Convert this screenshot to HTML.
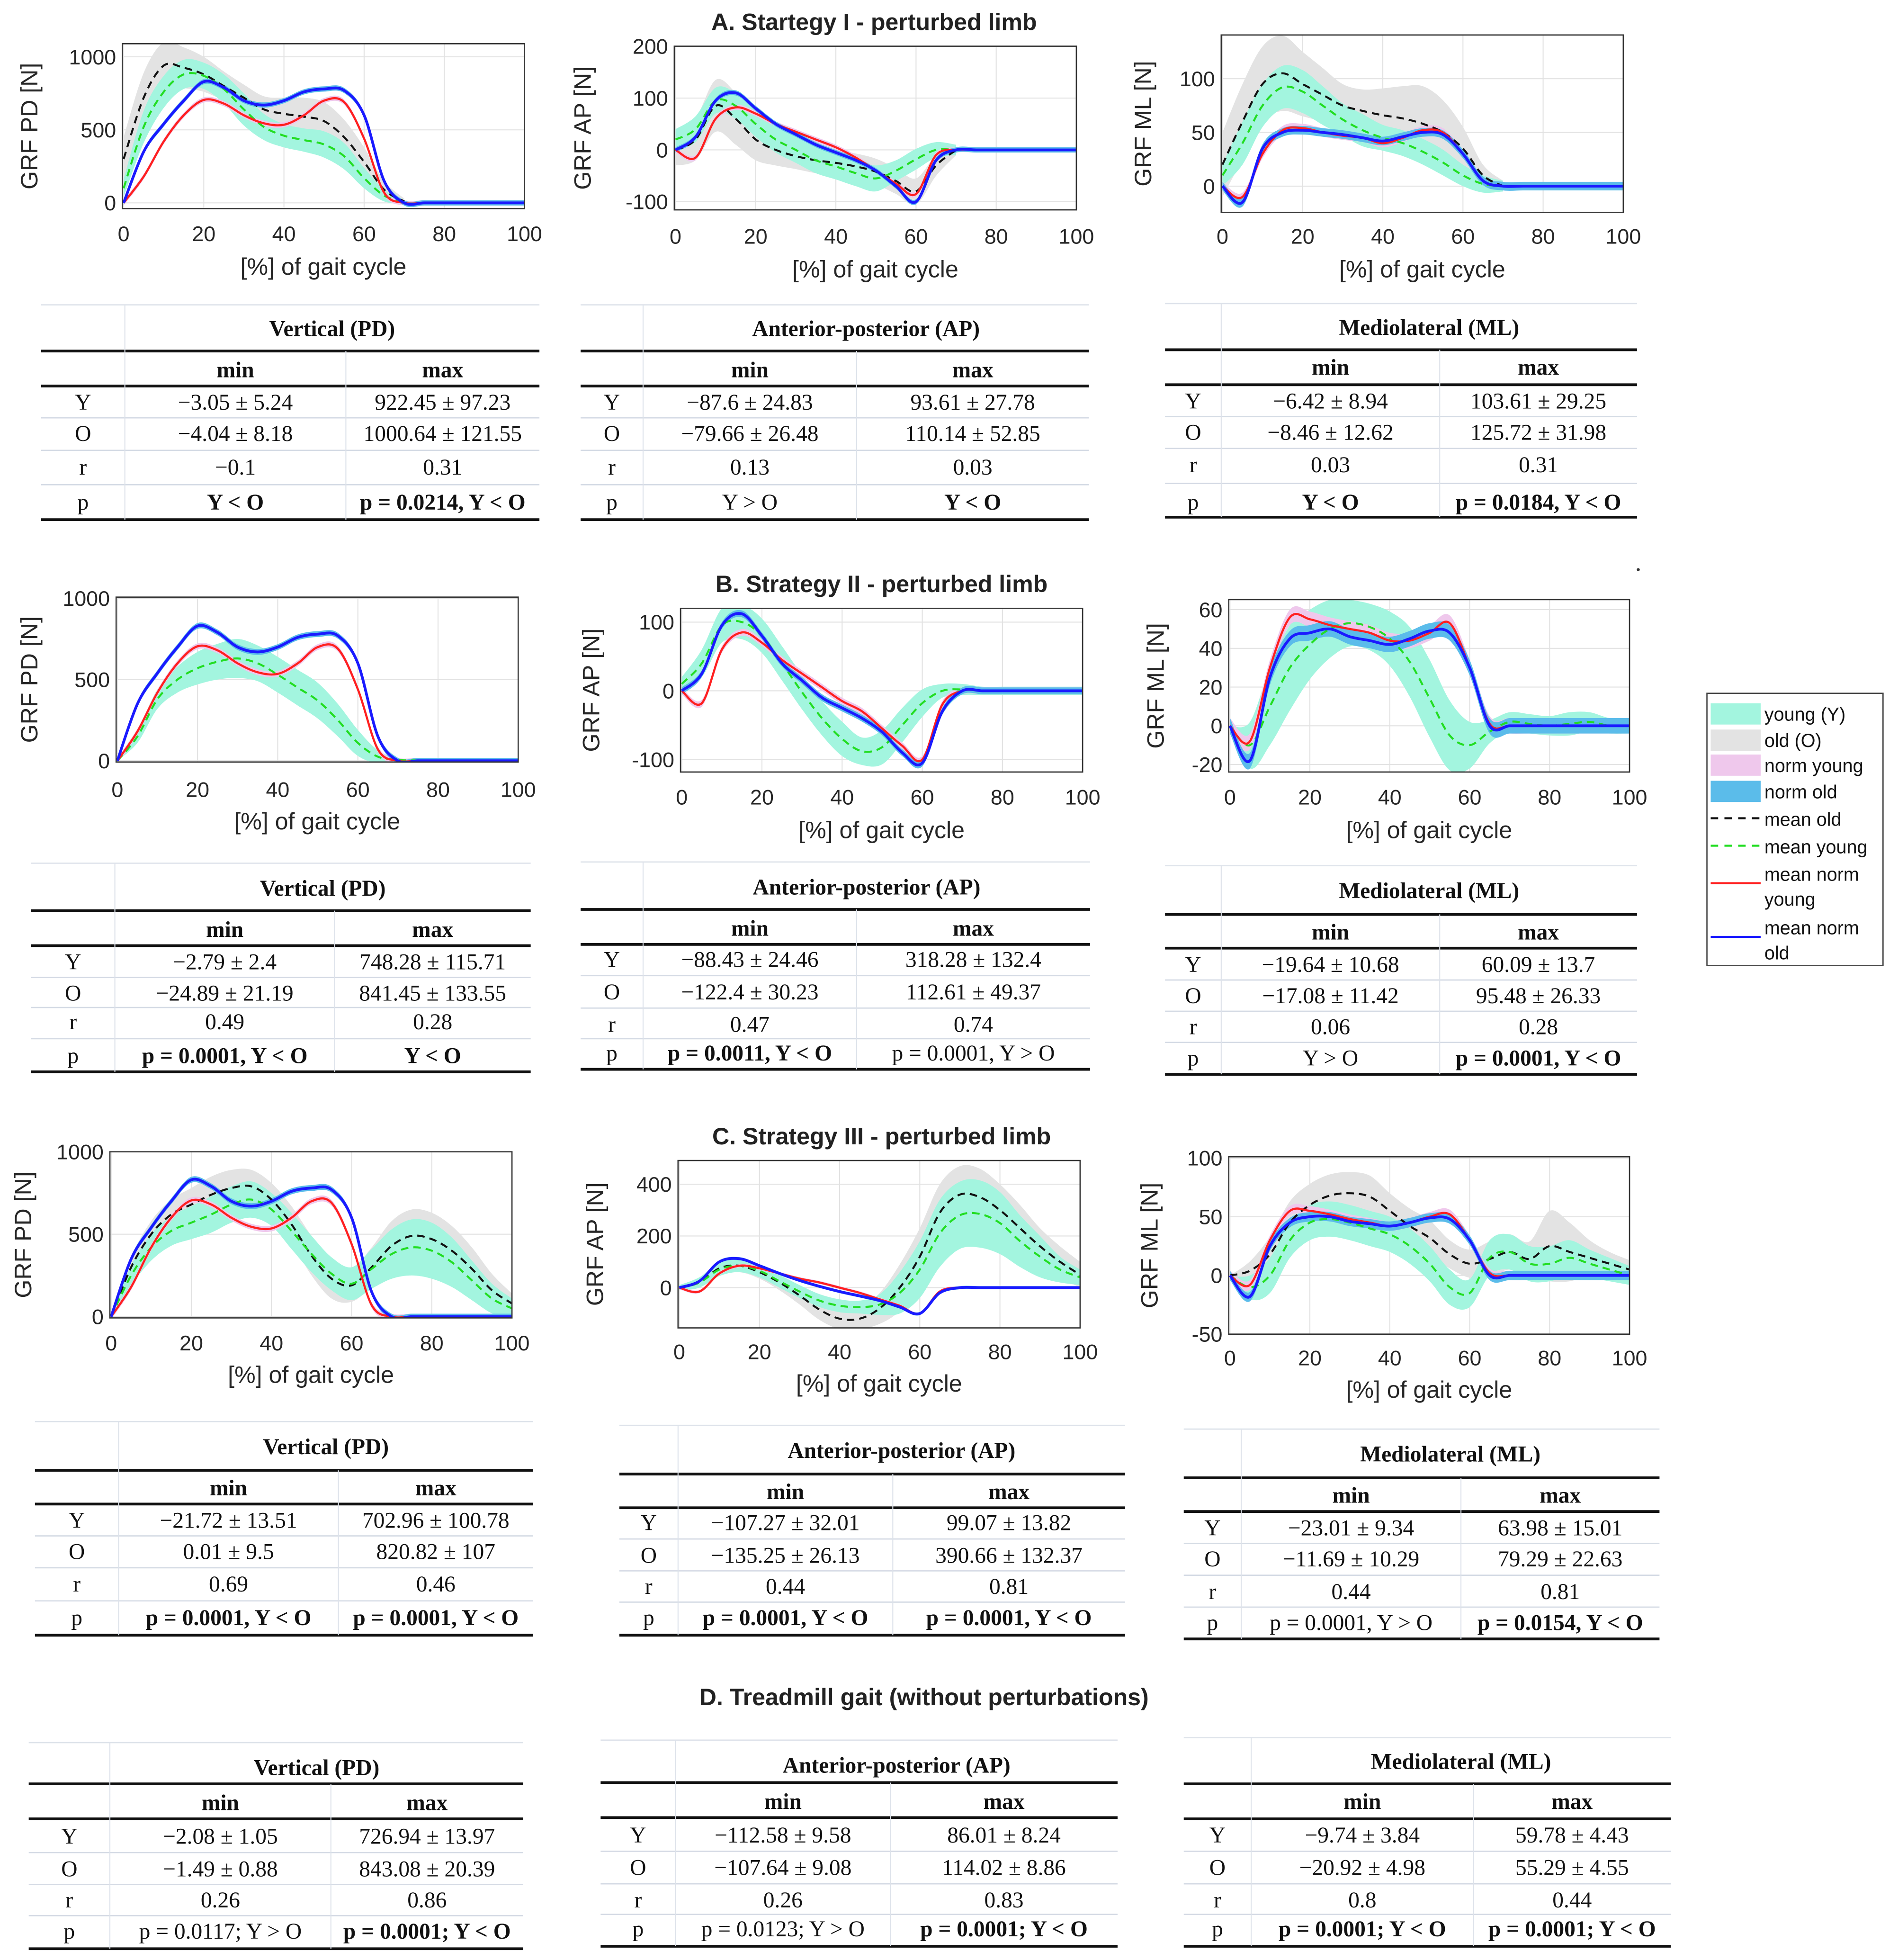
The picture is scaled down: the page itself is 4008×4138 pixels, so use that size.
<!DOCTYPE html>
<html><head><meta charset="utf-8"><style>
html,body{margin:0;padding:0;background:#fff;}
svg{display:block;}
</style></head><body>
<svg id="fig" xmlns="http://www.w3.org/2000/svg" width="4008" height="4138" viewBox="0 0 1520 1569" preserveAspectRatio="none"></svg>
<script>
// ---------- DATA (x = 0..100 step 5) ----------
const X = [0,5,10,15,20,25,30,35,40,45,50,55,60,65,70,75,80,85,90,95,100];
const Z = null;
// Panel A1 PD
const A1_normOld   = [0,350,540,700,830,790,700,670,700,760,780,770,600,150,0,0,0,0,0,0,0];
const A1_normYoung = [0,180,420,600,705,680,600,545,535,600,700,690,440,70,0,0,0,0,0,0,0];
const A1_meanOld   = [300,720,940,925,880,800,720,640,610,590,560,450,280,90,10,Z,Z,Z,Z,Z,Z];
const A1_meanYoung = [100,520,760,880,870,780,640,520,460,430,400,320,170,50,5,Z,Z,Z,Z,Z,Z];
const A1_sdOld     = [150,170,160,140,120,100,90,90,110,130,130,120,100,60,20,Z,Z,Z,Z,Z,Z];
const A1_sdYoung   = [60,110,110,100,90,100,110,90,80,80,90,90,70,40,10,Z,Z,Z,Z,Z,Z];
// Panel A2 AP
const A2_normOld   = [0,25,95,110,80,50,30,10,-5,-20,-40,-70,-100,-20,0,0,0,0,0,0,0];
const A2_normYoung = [0,-15,60,82,70,50,35,20,5,-15,-40,-65,-85,-10,0,0,0,0,0,0,0];
const A2_meanOld   = [0,20,85,60,20,0,-12,-20,-25,-32,-42,-60,-80,-30,0,Z,Z,Z,Z,Z,Z];
const A2_meanYoung = [20,40,95,85,50,20,0,-20,-32,-45,-55,-40,-18,0,0,Z,Z,Z,Z,Z,Z];
const A2_sdOld     = [30,40,50,50,40,30,25,25,25,25,25,25,25,20,10,Z,Z,Z,Z,Z,Z];
const A2_sdYoung   = [20,25,25,25,25,25,25,25,25,25,25,20,20,15,10,Z,Z,Z,Z,Z,Z];
// Panel A3 ML
const A3_normOld   = [0,-15,35,50,52,50,48,45,42,46,50,48,30,5,0,0,0,0,0,0,0];
const A3_normYoung = [0,-10,30,52,54,50,47,45,40,45,52,50,30,5,0,Z,Z,Z,Z,Z,Z];
const A3_meanOld   = [20,60,95,105,95,85,75,70,66,63,58,50,35,10,0,Z,Z,Z,Z,Z,Z];
const A3_meanYoung = [10,40,75,92,88,75,62,52,45,40,32,22,10,2,0,Z,Z,Z,Z,Z,Z];
const A3_sdOld     = [30,35,35,35,30,25,20,20,25,30,35,30,20,10,5,Z,Z,Z,Z,Z,Z];
const A3_sdYoung   = [10,20,20,20,20,18,15,15,12,12,12,12,10,8,5,Z,Z,Z,Z,Z,Z];
// Panel B1 PD
const B1_normOld   = A1_normOld;
const B1_normYoung = A1_normYoung;
const B1_meanYoung = [0,150,380,500,570,610,630,600,530,450,370,250,110,25,5,2,0,0,0,0,0];
const B1_sdYoung   = [0,40,60,80,100,110,120,110,110,110,110,100,80,40,10,5,0,0,0,0,0];
// Panel B2 AP
const B2_normOld   = [0,25,95,112,80,40,15,-10,-25,-40,-60,-90,-105,-30,0,0,0,0,0,0,0];
const B2_normYoung = [0,-18,60,85,70,45,25,5,-15,-30,-55,-80,-100,-20,0,0,0,0,0,0,0];
const B2_meanYoung = [10,40,95,100,80,40,-2,-40,-70,-88,-82,-50,-18,0,2,0,0,0,0,0,0];
const B2_sdYoung   = [10,20,25,25,25,25,25,25,25,20,25,25,20,10,8,6,6,6,6,6,6];
// Panel B3 ML
const B3_normOld   = [0,-18,25,45,48,50,46,44,42,45,49,48,30,0,0,0,0,0,0,0,0];
const B3_normYoung = [0,-8,30,56,55,52,50,48,44,44,48,53,30,1,0,0,0,0,0,0,0];
const B3_meanYoung = [0,-10,10,30,42,50,53,51,45,33,14,-5,-10,-3,2,1,0,1,2,0,0];
const B3_sdYoung   = [0,12,20,22,18,15,12,12,14,18,20,18,12,6,5,5,5,6,5,4,4];
// Panel C1 PD
const C1_normOld   = A1_normOld;
const C1_normYoung = A1_normYoung;
const C1_meanOld   = [0,300,500,620,680,740,780,790,710,560,370,230,190,300,430,490,470,400,290,160,80];
const C1_meanYoung = [0,250,420,520,570,620,680,710,650,520,380,260,200,290,380,420,400,330,220,110,50];
const C1_sdOld     = [0,60,80,90,100,110,110,100,100,110,120,120,100,120,150,160,160,150,130,100,60];
const C1_sdYoung   = [0,60,80,90,100,110,110,110,100,110,110,100,100,120,150,170,170,150,120,90,60];
// Panel C2 AP
const C2_normOld   = [0,25,100,112,85,55,28,5,-15,-32,-50,-75,-100,-20,0,0,0,0,0,0,0];
const C2_normYoung = [0,-15,55,85,75,55,35,20,0,-20,-45,-70,-100,-15,0,0,0,0,0,0,0];
const C2_meanOld   = [0,20,75,85,60,20,-30,-85,-120,-120,-80,0,120,290,360,350,300,230,160,100,50];
const C2_meanYoung = [0,20,70,85,65,25,-15,-50,-70,-75,-65,-20,70,210,280,285,250,180,120,70,40];
const C2_sdOld     = [10,20,25,25,25,30,35,40,40,40,60,90,110,110,110,110,100,90,70,60,50];
const C2_sdYoung   = [10,20,25,25,25,25,25,25,25,25,40,80,110,130,130,130,120,100,80,50,30];
// Panel C3 ML
const C3_normOld   = [0,-18,25,45,50,50,46,44,42,45,49,48,30,0,0,0,0,0,0,0,0];
const C3_normYoung = [0,-8,30,55,55,52,48,45,42,45,50,52,30,2,0,0,0,0,0,0,0];
const C3_meanOld   = [0,4,18,45,60,68,70,67,55,42,32,18,10,14,20,14,25,20,15,10,5];
const C3_meanYoung = [0,-10,0,30,45,48,45,40,35,25,10,-10,-15,15,20,10,10,15,10,5,0];
const C3_sdOld     = [0,8,15,18,18,18,18,18,15,15,15,12,12,15,15,15,30,25,15,10,8];
const C3_sdYoung   = [0,10,15,15,15,15,15,15,15,15,15,15,12,15,15,15,15,15,12,10,8];
// axis ticks
const xTicks = [0,20,40,60,80,100];
const ticksPD = [0,500,1000];
const ticksA2 = [-100,0,100,200];
const ticksA3 = [0,50,100];
const ticksB2 = [-100,0,100];
const ticksB3 = [-20,0,20,40,60];
const ticksC2 = [0,200,400];
const ticksC3 = [-50,0,50,100];

// ---------- helpers ----------
const NS = 'http://www.w3.org/2000/svg';
const svg = document.getElementById('fig');
function mk(tag, attrs, parent){ const e = document.createElementNS(NS, tag); for (const k in attrs) e.setAttribute(k, attrs[k]); (parent||svg).appendChild(e); return e; }
function txt(s, attrs, parent){ const e = mk('text', attrs, parent); e.textContent = s; return e; }
function smooth(pts){
  if (pts.length < 2) return '';
  let d = 'M' + pts[0][0].toFixed(2) + ',' + pts[0][1].toFixed(2);
  for (let i = 0; i < pts.length - 1; i++){
    const p0 = pts[i-1] || pts[i], p1 = pts[i], p2 = pts[i+1], p3 = pts[i+2] || p2;
    const c1 = [p1[0] + (p2[0]-p0[0])/6, p1[1] + (p2[1]-p0[1])/6];
    const c2 = [p2[0] - (p3[0]-p1[0])/6, p2[1] - (p3[1]-p1[1])/6];
    d += 'C' + c1[0].toFixed(2)+','+c1[1].toFixed(2)+' '+c2[0].toFixed(2)+','+c2[1].toFixed(2)+' '+p2[0].toFixed(2)+','+p2[1].toFixed(2);
  }
  return d;
}

const panels = [
 {id:'a-pd', x0:98, x1:420, top:35, bot:167, xv0:99, xv1:420, yv:[0,1000], yp:[162.4,45.5], ticks:ticksPD, ylab:'GRF PD [N]', ylx:25, tickY:193, labY:220, nO:A1_normOld, nY:A1_normYoung, mO:A1_meanOld, mY:A1_meanYoung, sO:A1_sdOld, sY:A1_sdYoung, nb:18},
 {id:'a-ap', x0:540, x1:862, top:37, bot:168, xv0:541, xv1:862, yv:[0,200], yp:[120,37], ticks:ticksA2, ylab:'GRF AP [N]', ylx:468, tickY:195, labY:222, nO:A2_normOld, nY:A2_normYoung, mO:A2_meanOld, mY:A2_meanYoung, sO:A2_sdOld, sY:A2_sdYoung, nb:5},
 {id:'a-ml', x0:978, x1:1300, top:28, bot:170, xv0:979, xv1:1300, yv:[0,100], yp:[149,63], ticks:ticksA3, ylab:'GRF ML [N]', ylx:917, tickY:195, labY:222, nO:A3_normOld, nY:A3_normYoung, mO:A3_meanOld, mY:A3_meanYoung, sO:A3_sdOld, sY:A3_sdYoung, nb:4},
 {id:'b-pd', x0:93, x1:415, top:478, bot:610, xv0:94, xv1:415, yv:[0,1000], yp:[609,479], ticks:ticksPD, ylab:'GRF PD [N]', ylx:25, tickY:638, labY:664, nO:B1_normOld, nY:B1_normYoung, mO:null, mY:B1_meanYoung, sO:null, sY:B1_sdYoung, nb:18},
 {id:'b-ap', x0:545, x1:867, top:487, bot:618, xv0:546, xv1:867, yv:[0,100], yp:[553,498], ticks:ticksB2, ylab:'GRF AP [N]', ylx:475, tickY:644, labY:671, nO:B2_normOld, nY:B2_normYoung, mO:null, mY:B2_meanYoung, sO:null, sY:B2_sdYoung, nb:5},
 {id:'b-ml', x0:984, x1:1305, top:480, bot:618, xv0:985, xv1:1305, yv:[0,60], yp:[581,488], ticks:ticksB3, ylab:'GRF ML [N]', ylx:927, tickY:644, labY:671, nO:B3_normOld, nY:B3_normYoung, mO:null, mY:B3_meanYoung, sO:null, sY:B3_sdYoung, nb:4},
 {id:'c-pd', x0:88, x1:410, top:922, bot:1055, xv0:89, xv1:410, yv:[0,1000], yp:[1054,922], ticks:ticksPD, ylab:'GRF PD [N]', ylx:20, tickY:1081, labY:1107, nO:C1_normOld, nY:C1_normYoung, mO:C1_meanOld, mY:C1_meanYoung, sO:C1_sdOld, sY:C1_sdYoung, nb:18},
 {id:'c-ap', x0:543, x1:865, top:929, bot:1063, xv0:544, xv1:865, yv:[0,400], yp:[1030.8,948], ticks:ticksC2, ylab:'GRF AP [N]', ylx:478, tickY:1088, labY:1114, nO:C2_normOld, nY:C2_normYoung, mO:C2_meanOld, mY:C2_meanYoung, sO:C2_sdOld, sY:C2_sdYoung, nb:6},
 {id:'c-ml', x0:984, x1:1305, top:926, bot:1068, xv0:985, xv1:1305, yv:[0,100], yp:[1021,927], ticks:ticksC3, ylab:'GRF ML [N]', ylx:922, tickY:1093, labY:1119, nO:C3_normOld, nY:C3_normYoung, mO:C3_meanOld, mY:C3_meanYoung, sO:C3_sdOld, sY:C3_sdYoung, nb:4}
];

panels.forEach((p, pi) => {
  const g = mk('g', {});
  
  
  const xs = v => p.xv0 + (v/100)*(p.xv1 - p.xv0);
  const ys = v => p.yp[0] + (v - p.yv[0])*(p.yp[1]-p.yp[0])/(p.yv[1]-p.yv[0]);
  const cp = mk('clipPath', {id:'clip'+pi}, g);
  mk('rect', {x:p.x0, y:p.top, width:p.x1-p.x0, height:p.bot-p.top}, cp);
  mk('rect', {x:p.x0, y:p.top, width:p.x1-p.x0, height:p.bot-p.top, fill:'#fff'}, g);
  xTicks.forEach(t => {
    const l = mk('line', {x1:xs(t), x2:xs(t), y1:p.top, y2:p.bot, stroke:'#e2e2e2', 'stroke-width':0.8}, g);
    
    
    const tl = txt(String(t), {x:xs(t), y:p.tickY, 'font-family':'Liberation Sans, sans-serif', 'font-size':17, 'text-anchor':'middle', fill:'#262626'}, g);
    
    
  });
  p.ticks.forEach(t => {
    const l = mk('line', {x1:p.x0, x2:p.x1, y1:ys(t), y2:ys(t), stroke:'#e2e2e2', 'stroke-width':0.8}, g);
    
    
    const tl = txt(String(t), {x:p.x0-5, y:ys(t)+6, 'font-family':'Liberation Sans, sans-serif', 'font-size':17, 'text-anchor':'end', fill:'#262626'}, g);
    
    
  });
  const plot = mk('g', {'clip-path':'url(#clip'+pi+')'}, g);
  function band(mean, sd, fill, name, scalar){
    const up = [], lo = [];
    X.forEach((x, i) => { if (mean[i] === null || mean[i] === undefined) return; const s = scalar !== undefined ? scalar : sd[i]; up.push([xs(x), ys(mean[i]+s)]); lo.push([xs(x), ys(mean[i]-s)]); });
    const d = smooth(up) + smooth(lo.reverse()).replace('M','L') + 'Z';
    const e = mk('path', {d:d, fill:fill, stroke:'none'}, plot);
    
    
  }
  function line(mean, stroke, dash, name, w){
    const pts = [];
    X.forEach((x, i) => { if (mean[i] === null || mean[i] === undefined) return; pts.push([xs(x), ys(mean[i])]); });
    const e = mk('path', {d:smooth(pts), fill:'none', stroke:stroke, 'stroke-width':w, 'stroke-dasharray':dash, 'stroke-linejoin':'round'}, plot);
    
    
  }
  if (p.mO) band(p.mO, p.sO, '#e3e3e3', 'old-band');
  band(p.mY, p.sY, '#a3f5df', 'young-band');
  band(p.nY, null, '#efc8ec', 'norm-young-band', p.nb);
  band(p.nO, null, '#5bbcea', 'norm-old-band', p.nb);
  if (p.mO) line(p.mO, '#111', '6 4', 'mean-old-line', 1.6);
  line(p.mY, '#22dd22', '6 4', 'mean-young-line', 1.6);
  line(p.nY, '#ff2020', 'none', 'mean-norm-young-line', 1.7);
  line(p.nO, '#1a1aff', 'none', 'mean-norm-old-line', 2.2);
  const fr = mk('rect', {x:p.x0, y:p.top, width:p.x1-p.x0, height:p.bot-p.top, fill:'none', stroke:'#333', 'stroke-width':1}, g);
  
  
  const xl = txt('[%] of gait cycle', {x:(p.x0+p.x1)/2, y:p.labY, 'font-family':'Liberation Sans, sans-serif', 'font-size':19, 'text-anchor':'middle', fill:'#262626'}, g);
  
  
  const cy = (p.top+p.bot)/2;
  const yl = txt(p.ylab, {x:p.ylx, y:cy, transform:'rotate(-90 '+p.ylx+' '+cy+')', 'font-family':'Liberation Sans, sans-serif', 'font-size':19, 'text-anchor':'middle', 'dominant-baseline':'middle', fill:'#262626'}, g);
  
  
});

[['A. Startegy I - perturbed limb',700,24],['B. Strategy II - perturbed limb',706,474],['C. Strategy III - perturbed limb',706,916],['D. Treadmill gait (without perturbations)',740,1365]].forEach(t => {
  const e = txt(t[0], {x:t[1], y:t[2], 'font-family':'Liberation Sans, sans-serif', 'font-size':19, 'font-weight':'bold', 'text-anchor':'middle', fill:'#222'});
  
  
});

const tables = [
 {x0:33,x1:432,c1:100,c2:277,top:244,head:263,l1:281,mm:296,l2:309,rows:[322,347,374,402],bot:416,title:'Vertical (PD)',cells:[['−3.05 ± 5.24','922.45 ± 97.23'],['−4.04 ± 8.18','1000.64 ± 121.55'],['−0.1','0.31'],['Y < O','p = 0.0214, Y < O']],bold:[1,1]},
 {x0:465,x1:872,c1:515,c2:686,top:244,head:263,l1:281,mm:296,l2:309,rows:[322,347,374,402],bot:416,title:'Anterior-posterior (AP)',cells:[['−87.6 ± 24.83','93.61 ± 27.78'],['−79.66 ± 26.48','110.14 ± 52.85'],['0.13','0.03'],['Y > O','Y < O']],bold:[0,1]},
 {x0:933,x1:1311,c1:978,c2:1153,top:243,head:262,l1:280,mm:294,l2:308,rows:[321,346,372,402],bot:414,title:'Mediolateral (ML)',cells:[['−6.42 ± 8.94','103.61 ± 29.25'],['−8.46 ± 12.62','125.72 ± 31.98'],['0.03','0.31'],['Y < O','p = 0.0184, Y < O']],bold:[1,1]},
 {x0:25,x1:425,c1:92,c2:268,top:691,head:711,l1:729,mm:744,l2:757,rows:[770,795,818,845],bot:858,title:'Vertical (PD)',cells:[['−2.79 ± 2.4','748.28 ± 115.71'],['−24.89 ± 21.19','841.45 ± 133.55'],['0.49','0.28'],['p = 0.0001, Y < O','Y < O']],bold:[1,1]},
 {x0:465,x1:873,c1:515,c2:686,top:690,head:710,l1:728,mm:743,l2:756,rows:[768,794,820,843],bot:856,title:'Anterior-posterior (AP)',cells:[['−88.43 ± 24.46','318.28 ± 132.4'],['−122.4 ± 30.23','112.61 ± 49.37'],['0.47','0.74'],['p = 0.0011, Y < O','p = 0.0001, Y > O']],bold:[1,0]},
 {x0:933,x1:1311,c1:978,c2:1153,top:693,head:713,l1:732,mm:746,l2:759,rows:[772,797,822,847],bot:860,title:'Mediolateral (ML)',cells:[['−19.64 ± 10.68','60.09 ± 13.7'],['−17.08 ± 11.42','95.48 ± 26.33'],['0.06','0.28'],['Y > O','p = 0.0001, Y < O']],bold:[0,1]},
 {x0:28,x1:427,c1:95,c2:271,top:1138,head:1158,l1:1177,mm:1191,l2:1204,rows:[1217,1242,1268,1295],bot:1309,title:'Vertical (PD)',cells:[['−21.72 ± 13.51','702.96 ± 100.78'],['0.01 ± 9.5','820.82 ± 107'],['0.69','0.46'],['p = 0.0001, Y < O','p = 0.0001, Y < O']],bold:[1,1]},
 {x0:496,x1:901,c1:543,c2:715,top:1141,head:1161,l1:1180,mm:1194,l2:1207,rows:[1219,1245,1270,1295],bot:1309,title:'Anterior-posterior (AP)',cells:[['−107.27 ± 32.01','99.07 ± 13.82'],['−135.25 ± 26.13','390.66 ± 132.37'],['0.44','0.81'],['p = 0.0001, Y < O','p = 0.0001, Y < O']],bold:[1,1]},
 {x0:948,x1:1329,c1:994,c2:1170,top:1144,head:1164,l1:1183,mm:1197,l2:1210,rows:[1223,1248,1274,1299],bot:1312,title:'Mediolateral (ML)',cells:[['−23.01 ± 9.34','63.98 ± 15.01'],['−11.69 ± 10.29','79.29 ± 22.63'],['0.44','0.81'],['p = 0.0001, Y > O','p = 0.0154, Y < O']],bold:[0,1]},
 {x0:23,x1:419,c1:88,c2:265,top:1395,head:1415,l1:1428,mm:1443,l2:1456,rows:[1470,1496,1521,1546],bot:1560,title:'Vertical (PD)',cells:[['−2.08 ± 1.05','726.94 ± 13.97'],['−1.49 ± 0.88','843.08 ± 20.39'],['0.26','0.86'],['p = 0.0117; Y > O','p = 0.0001; Y < O']],bold:[0,1]},
 {x0:481,x1:895,c1:541,c2:713,top:1393,head:1413,l1:1427,mm:1442,l2:1455,rows:[1469,1495,1521,1544],bot:1558,title:'Anterior-posterior (AP)',cells:[['−112.58 ± 9.58','86.01 ± 8.24'],['−107.64 ± 9.08','114.02 ± 8.86'],['0.26','0.83'],['p = 0.0123; Y > O','p = 0.0001; Y < O']],bold:[0,1]},
 {x0:948,x1:1338,c1:1002,c2:1180,top:1391,head:1410,l1:1428,mm:1442,l2:1456,rows:[1469,1495,1521,1544],bot:1558,title:'Mediolateral (ML)',cells:[['−9.74 ± 3.84','59.78 ± 4.43'],['−20.92 ± 4.98','55.29 ± 4.55'],['0.8','0.44'],['p = 0.0001; Y < O','p = 0.0001; Y < O']],bold:[1,1]}
];
const rowLabels = ['Y','O','r','p'];
const F = 'Liberation Serif, serif';
tables.forEach(t => {
  const g = mk('g', {});
  
  
  const hl = (y, w, c) => mk('line', {x1:t.x0, x2:t.x1, y1:y, y2:y, stroke:c, 'stroke-width':w}, g);
  hl(t.top, 1, '#dde2ea');
  hl(t.l1, 2.2, '#111'); hl(t.l2, 2.2, '#111'); hl(t.bot, 2.2, '#111');
  for (let i = 0; i < 3; i++) hl((t.rows[i]+t.rows[i+1])/2, 1, '#d4dae4');
  mk('line', {x1:t.c1, x2:t.c1, y1:t.top, y2:t.bot, stroke:'#dde2ea', 'stroke-width':0.8}, g);
  mk('line', {x1:t.c2, x2:t.c2, y1:t.l1, y2:t.bot, stroke:'#dde2ea', 'stroke-width':0.8}, g);
  const T = (s, x, y, b) => txt(s, {x:x, y:y+6, 'font-family':F, 'font-size':18, 'font-weight':b?'bold':'normal', 'text-anchor':'middle', fill:'#111'}, g);
  const h = T(t.title, (t.c1+t.x1)/2, t.head, 1);
  
  
  T('min', (t.c1+t.c2)/2, t.mm, 1);
  T('max', (t.c2+t.x1)/2, t.mm, 1);
  t.rows.forEach((y, i) => {
    T(rowLabels[i], (t.x0+t.c1)/2, y, 0);
    T(t.cells[i][0], (t.c1+t.c2)/2, y, i === 3 && t.bold[0]);
    T(t.cells[i][1], (t.c2+t.x1)/2, y, i === 3 && t.bold[1]);
  });
});

const lg = mk('g', {});


mk('rect', {x:1367, y:555, width:141, height:218, fill:'#fff', stroke:'#444', 'stroke-width':1}, lg);
const legItems = [
 {t:['young (Y)'], y:571, sw:'#a3f5df'},
 {t:['old (O)'], y:592, sw:'#e3e3e3'},
 {t:['norm young'], y:612, sw:'#efc8ec'},
 {t:['norm old'], y:633, sw:'#5bbcea'},
 {t:['mean old'], y:655, ln:'#111', dash:'6 5'},
 {t:['mean young'], y:677, ln:'#22dd22', dash:'6 5'},
 {t:['mean norm','young'], y:699, ln:'#ff2020', dash:'none', ly:707},
 {t:['mean norm','old'], y:742, ln:'#1a1aff', dash:'none', ly:750}
];
legItems.forEach(it => {
  const e = mk('g', {}, lg);
  
  
  if (it.sw) mk('rect', {x:1370, y:it.y-8, width:40, height:17, fill:it.sw}, e);
  else mk('line', {x1:1370, x2:1410, y1:it.ly||it.y, y2:it.ly||it.y, stroke:it.ln, 'stroke-width':1.6, 'stroke-dasharray':it.dash}, e);
  it.t.forEach((s, k) => txt(s, {x:1413, y:it.y+6+k*20, 'font-family':'Liberation Sans, sans-serif', 'font-size':15, fill:'#111'}, e));
});
mk('circle', {cx:1312, cy:456, r:1.2, fill:'#333'});
</script>
</body></html>
